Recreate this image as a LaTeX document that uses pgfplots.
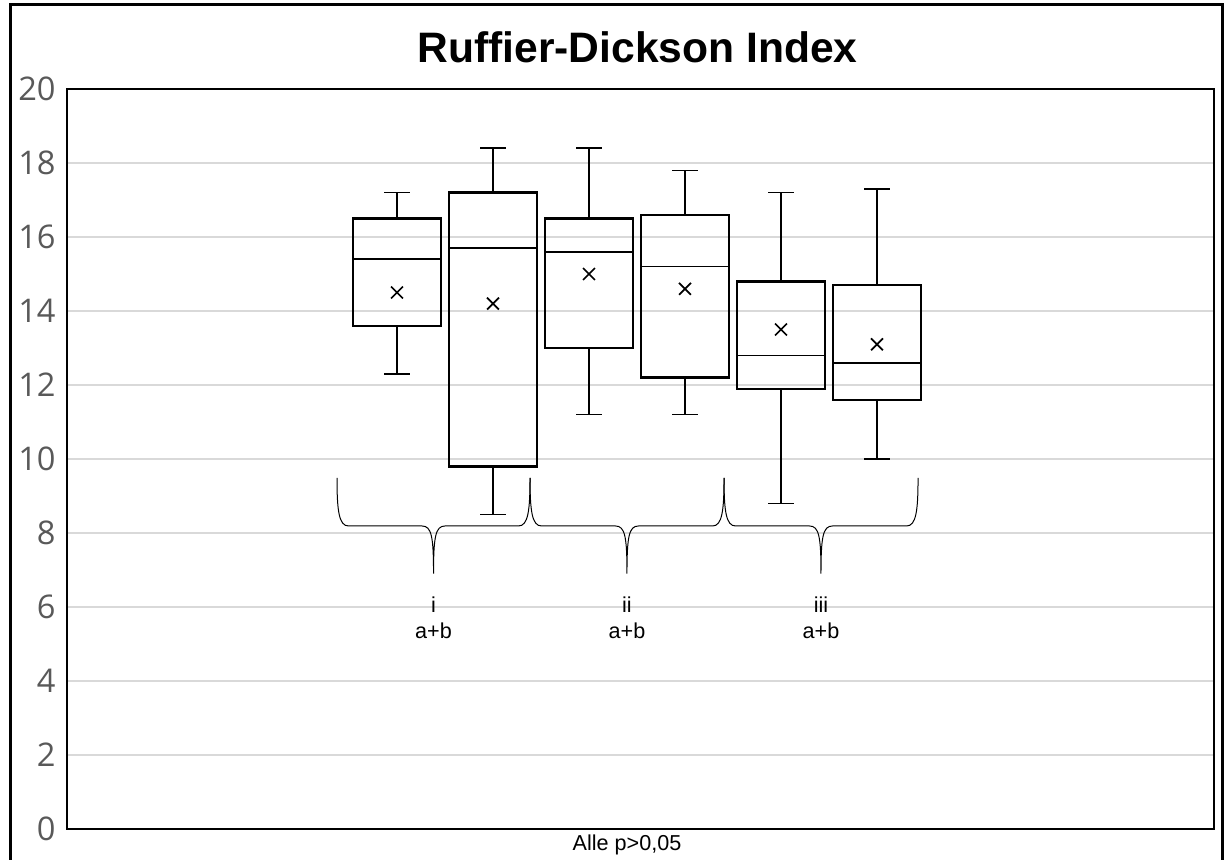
\documentclass[border=0pt]{standalone}
\usepackage{pgfplots}
\pgfplotsset{compat=1.18}
\usepgfplotslibrary{statistics}
\usepackage{fontspec}
\setmainfont{Liberation Sans}
\newfontfamily\tickfont{Open Sans}
\definecolor{gridgray}{HTML}{D9D9D9}
\definecolor{ticktext}{HTML}{595959}
\begin{document}
\begin{tikzpicture}
\useasboundingbox (0,0) rectangle (612pt,429.5pt);
\draw[line width=1.5pt] (5pt,-5pt) -- (5pt,427pt) -- (611pt,427pt) -- (611pt,-5pt);
\node[anchor=base,font=\bfseries\fontsize{21.3}{24}\selectfont] at (318.75pt,398pt) {Ruffier-Dickson Index};
\node[anchor=base,font=\fontsize{10.8}{12}\selectfont,inner sep=0pt] at (313.5pt,4.5pt) {Alle p>0,05};
\begin{axis}[
  at={(33.5pt,15pt)}, anchor=south west,
  scale only axis, width=573.5pt, height=370pt,
  xmin=0, xmax=11.948, ymin=0, ymax=20,
  xtick=\empty,
  ytick={0,2,...,20},
  ymajorgrids,
  major grid style={gridgray, line width=0.6pt},
  axis line style={line width=1.3pt},
  tick style={draw=none},
  /pgf/number format/assume math mode=true,
  yticklabel style={font=\tickfont\fontsize{16.3}{16}\selectfont, text=ticktext, anchor=east, inner sep=0pt, xshift=-5.5pt},
  boxplot/draw direction=y,
  boxplot/every box/.style={line width=1.15pt},
  boxplot/every whisker/.style={line width=0.85pt},
  boxplot/every median/.style={line width=0.85pt},
]
\addplot[black, boxplot prepared={draw position=3.4375, lower whisker=12.3, lower quartile=13.6, median=15.4, upper quartile=16.5, upper whisker=17.2, box extend=0.917, whisker extend=0.27}] coordinates {};
\addplot[black, boxplot prepared={draw position=4.4375, lower whisker=8.5, lower quartile=9.8, median=15.7, upper quartile=17.2, upper whisker=18.4, box extend=0.917, whisker extend=0.27}] coordinates {};
\addplot[black, boxplot prepared={draw position=5.4375, lower whisker=11.2, lower quartile=13.0, median=15.6, upper quartile=16.5, upper whisker=18.4, box extend=0.917, whisker extend=0.27}] coordinates {};
\addplot[black, boxplot prepared={draw position=6.4375, lower whisker=11.2, lower quartile=12.2, median=15.2, upper quartile=16.6, upper whisker=17.8, box extend=0.917, whisker extend=0.27}] coordinates {};
\addplot[black, boxplot prepared={draw position=7.4375, lower whisker=8.8, lower quartile=11.9, median=12.8, upper quartile=14.8, upper whisker=17.2, box extend=0.917, whisker extend=0.27}] coordinates {};
\addplot[black, boxplot prepared={draw position=8.4375, lower whisker=10.0, lower quartile=11.6, median=12.6, upper quartile=14.7, upper whisker=17.3, box extend=0.917, whisker extend=0.27}] coordinates {};
% means
\addplot[only marks, black, mark=x, mark size=4.2pt, mark options={line width=0.85pt}] coordinates {(3.4375,14.5) (4.4375,14.2) (5.4375,15.0) (6.4375,14.6) (7.4375,13.5) (8.4375,13.1)};
% braces
\draw[line width=0.5pt] (2.8125,9.49) .. controls (2.8125,8.6) and (2.8325,8.19) .. (2.9325,8.19) -- (3.698,8.19) .. controls (3.798,8.19) and (3.818,7.9) .. (3.818,6.9) .. controls (3.818,7.9) and (3.838,8.19) .. (3.938,8.19) -- (4.703,8.19) .. controls (4.803,8.19) and (4.823,8.6) .. (4.823,9.49);
\draw[line width=0.5pt] (4.823,9.49) .. controls (4.823,8.6) and (4.843,8.19) .. (4.943,8.19) -- (5.713,8.19) .. controls (5.813,8.19) and (5.833,7.9) .. (5.833,6.9) .. controls (5.833,7.9) and (5.853,8.19) .. (5.953,8.19) -- (6.724,8.19) .. controls (6.824,8.19) and (6.844,8.6) .. (6.844,9.49);
\draw[line width=0.5pt] (6.844,9.49) .. controls (6.844,8.6) and (6.864,8.19) .. (6.964,8.19) -- (7.734,8.19) .. controls (7.834,8.19) and (7.854,7.9) .. (7.854,6.9) .. controls (7.854,7.9) and (7.874,8.19) .. (7.974,8.19) -- (8.745,8.19) .. controls (8.845,8.19) and (8.865,8.6) .. (8.865,9.49);
\node[anchor=base,font=\fontsize{10.8}{12}\selectfont,inner sep=0pt] at (3.818,5.84) {i};
\node[anchor=base,font=\fontsize{10.8}{12}\selectfont,inner sep=0pt] at (3.818,5.16) {a+b};
\node[anchor=base,font=\fontsize{10.8}{12}\selectfont,inner sep=0pt] at (5.833,5.84) {ii};
\node[anchor=base,font=\fontsize{10.8}{12}\selectfont,inner sep=0pt] at (5.833,5.16) {a+b};
\node[anchor=base,font=\fontsize{10.8}{12}\selectfont,inner sep=0pt] at (7.854,5.84) {iii};
\node[anchor=base,font=\fontsize{10.8}{12}\selectfont,inner sep=0pt] at (7.854,5.16) {a+b};
\end{axis}
\end{tikzpicture}
\end{document}
